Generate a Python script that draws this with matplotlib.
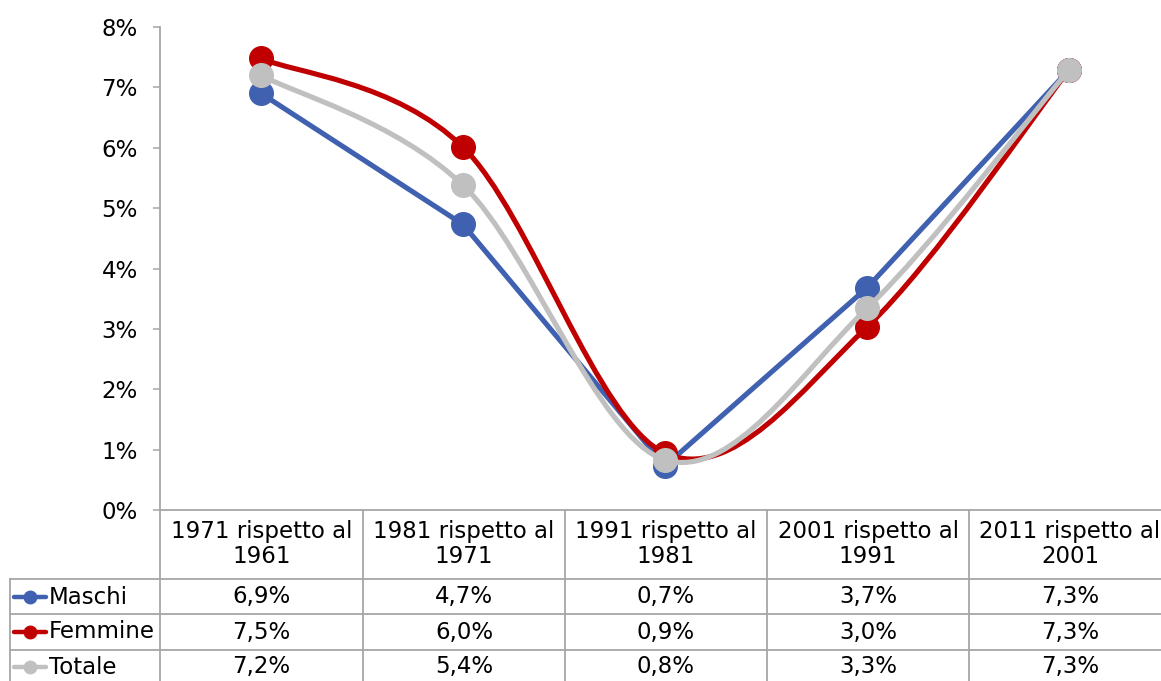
import numpy as np
import matplotlib
matplotlib.use("Agg")
import matplotlib.pyplot as plt
from matplotlib.path import Path
from matplotlib.patches import PathPatch
from matplotlib.lines import Line2D

# Data (percent change vs previous census)
categories = ["1971 rispetto al\n1961", "1981 rispetto al\n1971", "1991 rispetto al\n1981",
              "2001 rispetto al\n1991", "2011 rispetto al\n2001"]
maschi = [6.90, 4.73, 0.73, 3.68, 7.29]
femmine = [7.48, 6.01, 0.94, 3.03, 7.29]
totale = [7.20, 5.38, 0.83, 3.34, 7.29]

series_names = ["Maschi", "Femmine", "Totale"]
series_values = [maschi, femmine, totale]
series_colors = ["#4061b0", "#c00000", "#c0c0c0"]
series_smooth = [False, True, True]

W, H = 1161, 681
FS = 16.5
fig = plt.figure(figsize=(W / 100, H / 100), dpi=100)


def fx(px):
    return px / W


def fy(py):
    return 1 - py / H


# plot area: y axis at x=160, 0% at y=510, 8% at y=27, five 202px columns
ax = fig.add_axes([fx(160), fy(510), 1010 / W, (510 - 27) / H])
ax.set_xlim(-0.5, len(categories) - 0.5)
ax.set_ylim(0, 8)
ax.set_yticks(range(0, 9))
ax.set_yticklabels([f"{t}%" for t in range(0, 9)], fontsize=FS)
ax.set_xticks([])
for s in ["top", "right"]:
    ax.spines[s].set_visible(False)
ax.spines["left"].set_color("#a6a6a6")
ax.spines["bottom"].set_color("#a6a6a6")
ax.spines["left"].set_linewidth(1.3)
ax.spines["bottom"].set_linewidth(1.3)
ax.tick_params(axis="y", length=5, width=1.1, color="#a6a6a6", pad=11)


def smooth_path(xs, ys):
    # Excel-like smoothing: cubic Bezier through points (Catmull-Rom tangents)
    pts = np.column_stack([xs, ys]).astype(float)
    n = len(pts)
    verts = [pts[0]]
    codes = [Path.MOVETO]
    for i in range(n - 1):
        p_prev = pts[i - 1] if i > 0 else pts[i]
        p_next2 = pts[i + 2] if i + 2 < n else pts[i + 1]
        c1 = pts[i] + (pts[i + 1] - p_prev) / 6
        c2 = pts[i + 1] - (p_next2 - pts[i]) / 6
        verts += [c1, c2, pts[i + 1]]
        codes += [Path.CURVE4] * 3
    return Path(verts, codes)


x = np.arange(len(categories))
for k, (vals, col, sm) in enumerate(zip(series_values, series_colors, series_smooth)):
    z = 3 + k
    if sm:
        patch = PathPatch(smooth_path(x, vals), fill=False, edgecolor=col, lw=3.7,
                          capstyle="round", joinstyle="round", zorder=z)
        ax.add_patch(patch)
    else:
        ax.plot(x, vals, color=col, lw=3.7, solid_capstyle="round", zorder=z)
    ax.plot(x, vals, "o", color=col, markersize=17, zorder=z + 0.5, clip_on=False)

# data table below the plot
grid_col = "#a6a6a6"
col_edges = [160, 363, 565, 767, 969, 1171]
row_edges = [579, 614, 650]
row_centers = [597, 632, 667]


def hline(y, x0, x1):
    fig.add_artist(Line2D([fx(x0), fx(x1)], [fy(y), fy(y)], color=grid_col, lw=1.3))


def vline(xp, y0, y1):
    fig.add_artist(Line2D([fx(xp), fx(xp)], [fy(y0), fy(y1)], color=grid_col, lw=1.3))


for yy in row_edges:
    hline(yy, 10, W)
vline(10, 579, H)
vline(160, 510, H)
for xp in col_edges[1:5]:
    vline(xp, 510, H)

for i, cat in enumerate(categories):
    cx = (col_edges[i] + col_edges[i + 1]) / 2
    fig.text(fx(cx), fy(544), cat, ha="center", va="center", fontsize=FS, linespacing=1.1)

for name, vals, col, cy in zip(series_names, series_values, series_colors, row_centers):
    fig.add_artist(Line2D([fx(14), fx(46)], [fy(cy), fy(cy)], color=col, lw=3.2,
                          solid_capstyle="round"))
    fig.add_artist(Line2D([fx(30)], [fy(cy)], marker="o", color=col, markersize=9))
    fig.text(fx(49), fy(cy), name, ha="left", va="center", fontsize=FS)
    for i, v in enumerate(vals):
        cx = (col_edges[i] + col_edges[i + 1]) / 2
        fig.text(fx(cx), fy(cy), f"{v:.1f}%".replace(".", ","), ha="center", va="center",
                 fontsize=FS)

fig.savefig("out.png", dpi=100)
